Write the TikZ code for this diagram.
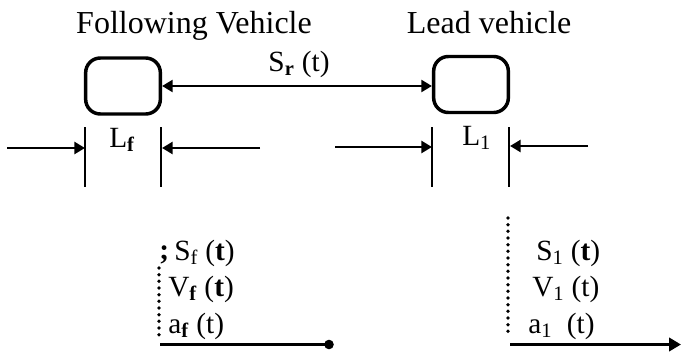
\documentclass[tikz,border=0pt]{standalone}
\usepackage{fontspec}
\setmainfont{Liberation Serif}
\usetikzlibrary{arrows.meta}
\tikzset{
  x=0.75pt,y=-0.75pt,
  title/.style={font=\fontsize{24}{26}\selectfont,inner sep=0pt,anchor=base},
  lab/.style={font=\fontsize{22}{24}\selectfont,inner sep=0pt,anchor=base west},
  vehicle/.style={draw,line width=2.6pt,rounded corners=11pt,minimum width=56pt,minimum height=42pt,inner sep=0pt},
  tick/.style={line width=2.2pt},
  dim/.style={line width=1.9pt,-{Triangle[length=8pt,width=9pt]}},
  gap/.style={line width=1.9pt,{Triangle[length=8pt,width=9pt]}-{Triangle[length=8pt,width=9pt]}},
  dots/.style={line width=2.8pt,line cap=round,dash pattern=on 0pt off 5pt},
  base/.style={line width=2.6pt}
}
\newcommand{\sbf}[1]{\textsubscript{\textbf{#1}}}
\begin{document}
\begin{tikzpicture}
\useasboundingbox (0,0) rectangle (681,353);
\node[title] (ft) at (194,34) {Following Vehicle};
\node[title] (lt) at (489,34) {Lead vehicle};
\node[vehicle] (fv) at (123,86) {};
\node[vehicle] (lv) at (471,84.5) {};
\draw[gap] (fv.east) -- (lv.west |- fv.east);
\node[lab,anchor=base] (sr) at (299,71.5) {S\sbf{r} (t)};
\coordinate (ft1) at (85,127); \coordinate (fb1) at (85,187);
\coordinate (ft2) at (161,127); \coordinate (fb2) at (161,187);
\coordinate (lt1) at (432,127); \coordinate (lb1) at (432,187);
\coordinate (lt2) at (509,127); \coordinate (lb2) at (509,187);
\draw[tick] (ft1) -- (fb1);
\draw[tick] (ft2) -- (fb2);
\draw[tick] (lt1) -- (lb1);
\draw[tick] (lt2) -- (lb2);
\coordinate (a1) at (7,148); \coordinate (a1e) at (85,148);
\coordinate (a2) at (260,148); \coordinate (a2e) at (162,148);
\coordinate (a3) at (335,147); \coordinate (a3e) at (432,147);
\coordinate (a4) at (588,146); \coordinate (a4e) at (510,146);
\draw[dim] (a1) -- (a1e);
\draw[dim] (a2) -- (a2e);
\draw[dim] (a3) -- (a3e);
\draw[dim] (a4) -- (a4e);
\node[lab,anchor=base west] (lf) at (109,147) {L\sbf{f}};
\node[lab,anchor=base west] (l1) at (462,145) {L\textsubscript{1}};
% following vehicle quantities
\node[lab,anchor=base west,font=\fontsize{22}{24}\selectfont\bfseries] (semi) at (159,259) {;};
\node[lab] (sf) at (174,260) {S\textsubscript{f} (\textbf{t})};
\node[lab] (vf) at (168,296) {V\sbf{f} (\textbf{t})};
\node[lab] (af) at (168,333) {a\sbf{f} (t)};
\coordinate (fd1) at (159,268); \coordinate (fd2) at (159,340);
\draw[dots] (fd1) -- (fd2);
\coordinate (fo) at (160,344.5); \coordinate (fe) at (329,344.5);
\draw[base] (fo) -- (fe);
\fill (fe) circle (3.6pt);
% lead vehicle quantities
\node[lab] (s1) at (536,260) {S\textsubscript{1} (\textbf{t})};
\node[lab] (v1) at (532,296) {V\textsubscript{1} (t)};
\node[lab] (a1t) at (528,333) {a\textsubscript{1}\ \ (t)};
\coordinate (ld1) at (508,218); \coordinate (ld2) at (508,336);
\draw[dots] (ld1) -- (ld2);
\coordinate (lo) at (510,344.5); \coordinate (le) at (681,344.5);
\draw[base,-{Triangle[length=9pt,width=10pt]}] (lo) -- (le);
\end{tikzpicture}
\end{document}
